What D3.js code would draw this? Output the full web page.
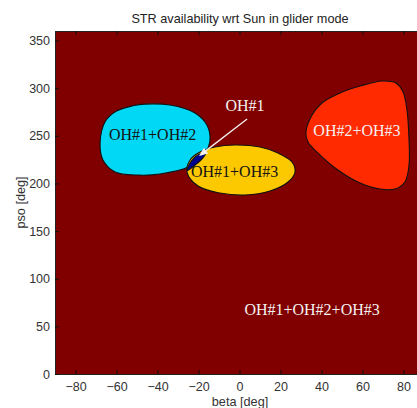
<!DOCTYPE html>
<html>
<head>
<meta charset="utf-8">
<script src="https://cdn.jsdelivr.net/npm/d3@7"></script>
<style>
  html, body { margin: 0; padding: 0; background: #fff; }
  svg { display: block; }
</style>
</head>
<body>
<svg id="chart" width="417" height="408"></svg>
<script>
// Region boundaries in (beta, pso) degrees
const regionNames = ["OH#1+OH#2", "OH#1+OH#3", "OH#2+OH#3", "OH#1"];
const regionColors = ["#00d8f6", "#fcc800", "#ff2a00", "#000090"];
const backgroundColor = "#800000";

const cyanBeta = [-68.0, -65.5, -60.0, -52.0, -46.1, -33.9, -21.7, -15.9, -14.4, -16.8, -25.1, -38.8, -49.5, -60.7, -66.6];
const cyanPso  = [242.4, 265.0, 276.0, 281.5, 283.3, 282.3, 273.9, 261.3, 245.5, 231.9, 217.2, 209.9, 208.8, 212.0, 224.6];

const yellowBeta = [-25.6, -24.1, -19.3, -12.0, -2.2, 10.0, 18.8, 25.6, 27.1, 23.7, 14.9, 2.7, -9.5, -20.2];
const yellowPso  = [212.0, 224.6, 232.9, 238.2, 240.3, 238.2, 231.9, 222.5, 212.0, 201.5, 192.0, 187.8, 189.9, 197.3];

const redBeta = [32.4, 35.4, 40.2, 49.0, 58.8, 69.5, 76.3, 79.8, 81.7, 82.7, 82.7, 80.7, 75.9, 68.5, 58.8, 48.0, 38.3, 33.4];
const redPso  = [253.9, 271.8, 284.4, 294.9, 302.2, 307.5, 305.4, 295.9, 277.0, 245.5, 219.3, 201.5, 194.1, 194.1, 200.4, 214.1, 231.9, 243.4];

const navyBeta = [-25.6, -23.5, -20.0, -16.4, -18.4, -22.4];
const navyPso  = [213.5, 223.5, 230.5, 232.2, 225.5, 218.0];

// Text labels (centre beta, baseline pso)
const labelTexts = ["OH#1+OH#2", "OH#1+OH#3", "OH#2+OH#3", "OH#1+OH#2+OH#3", "OH#1"];
const labelBeta  = [-42.4, -2.4, 57.3, 35.4, 2.7];
const labelPso   = [245.5, 206.7, 249.7, 61.9, 276.0];
const labelDark  = [true, true, false, false, false];

// Arrow pointing at the OH#1 sliver
const arrowBeta = [3.7, -19.8];
const arrowPso  = [267.6, 228.7];

const xTicks = [-80, -60, -40, -20, 0, 20, 40, 60, 80];
const yTicks = [0, 50, 100, 150, 200, 250, 300, 350];

const svg = d3.select("#chart");
const plotLeft = 55, plotRight = 424, plotTop = 31, plotBottom = 374;

const x = d3.scaleLinear().domain([-90, 90]).range([plotLeft, plotRight]);
const y = d3.scaleLinear().domain([0, 360]).range([plotBottom, plotTop]);

svg.append("defs").append("clipPath").attr("id", "plotClip")
  .append("rect").attr("x", plotLeft).attr("y", plotTop)
  .attr("width", plotRight - plotLeft).attr("height", plotBottom - plotTop);

svg.append("rect")
  .attr("x", plotLeft).attr("y", plotTop)
  .attr("width", plotRight - plotLeft).attr("height", plotBottom - plotTop)
  .attr("fill", backgroundColor);

const plot = svg.append("g").attr("clip-path", "url(#plotClip)");

const line = d3.line()
  .x(d => x(d[0]))
  .y(d => y(d[1]))
  .curve(d3.curveCatmullRomClosed.alpha(0.5));

const shapes = [
  [cyanBeta, cyanPso],
  [yellowBeta, yellowPso],
  [redBeta, redPso],
  [navyBeta, navyPso]
];

shapes.forEach(([bs, ps], i) => {
  const pts = bs.map((b, k) => [b, ps[k]]);
  plot.append("path")
    .attr("d", line(pts))
    .attr("fill", regionColors[i])
    .attr("stroke", "#111")
    .attr("stroke-width", 1.1)
    .attr("data-name", regionNames[i]);
});

// labels
labelTexts.forEach((t, i) => {
  plot.append("text")
    .attr("x", x(labelBeta[i]))
    .attr("y", y(labelPso[i]))
    .attr("text-anchor", "middle")
    .attr("font-family", "'Liberation Serif', 'Times New Roman', serif")
    .attr("font-size", 16)
    .attr("fill", labelDark[i] ? "#141414" : "#f4f0f0")
    .text(t);
});

// arrow
const ax0 = x(arrowBeta[0]), ay0 = y(arrowPso[0]);
const ax1 = x(arrowBeta[1]), ay1 = y(arrowPso[1]);
const ang = Math.atan2(ay1 - ay0, ax1 - ax0);
const headLen = 9, headW = 3.5;
const bx = ax1 - headLen * Math.cos(ang), by = ay1 - headLen * Math.sin(ang);
plot.append("line")
  .attr("x1", ax0).attr("y1", ay0).attr("x2", bx).attr("y2", by)
  .attr("stroke", "#f4f0f0").attr("stroke-width", 1.3);
plot.append("path")
  .attr("d", `M${ax1},${ay1} L${bx + headW * Math.sin(ang)},${by - headW * Math.cos(ang)} L${bx - headW * Math.sin(ang)},${by + headW * Math.cos(ang)} Z`)
  .attr("fill", "#f4f0f0");

// axes (MATLAB style, inward ticks)
const tickFont = "'Liberation Sans', Arial, Helvetica, sans-serif";
const xAxisB = d3.axisBottom(x).tickValues(xTicks).tickSizeInner(-4).tickSizeOuter(0).tickPadding(8);
const xAxisT = d3.axisTop(x).tickValues(xTicks).tickSizeInner(-4).tickSizeOuter(0).tickFormat("");
const yAxisL = d3.axisLeft(y).tickValues(yTicks).tickSizeInner(-4).tickSizeOuter(0).tickPadding(5);

function styleAxis(g) {
  g.select(".domain").attr("stroke", "#222").attr("stroke-width", 1);
  g.selectAll(".tick line").attr("stroke", "#111");
  g.selectAll("text").attr("font-family", tickFont).attr("font-size", 12.5).attr("fill", "#333");
}

svg.append("g").attr("transform", `translate(0,${plotBottom})`).call(xAxisB).call(styleAxis);
svg.append("g").attr("transform", `translate(0,${plotTop})`).call(xAxisT).call(styleAxis);
svg.append("g").attr("transform", `translate(${plotLeft},0)`).call(yAxisL).call(styleAxis);

// title and axis labels
svg.append("text")
  .attr("x", 240).attr("y", 23)
  .attr("text-anchor", "middle")
  .attr("font-family", tickFont).attr("font-size", 12.7).attr("fill", "#222")
  .text("STR availability wrt Sun in glider mode");

svg.append("text")
  .attr("x", 240).attr("y", 406)
  .attr("text-anchor", "middle")
  .attr("font-family", tickFont).attr("font-size", 12.7).attr("fill", "#333")
  .text("beta [deg]");

svg.append("text")
  .attr("transform", `translate(25,${(plotTop + plotBottom) / 2}) rotate(-90)`)
  .attr("text-anchor", "middle")
  .attr("font-family", tickFont).attr("font-size", 12.7).attr("fill", "#333")
  .text("pso [deg]");
</script>
</body>
</html>
